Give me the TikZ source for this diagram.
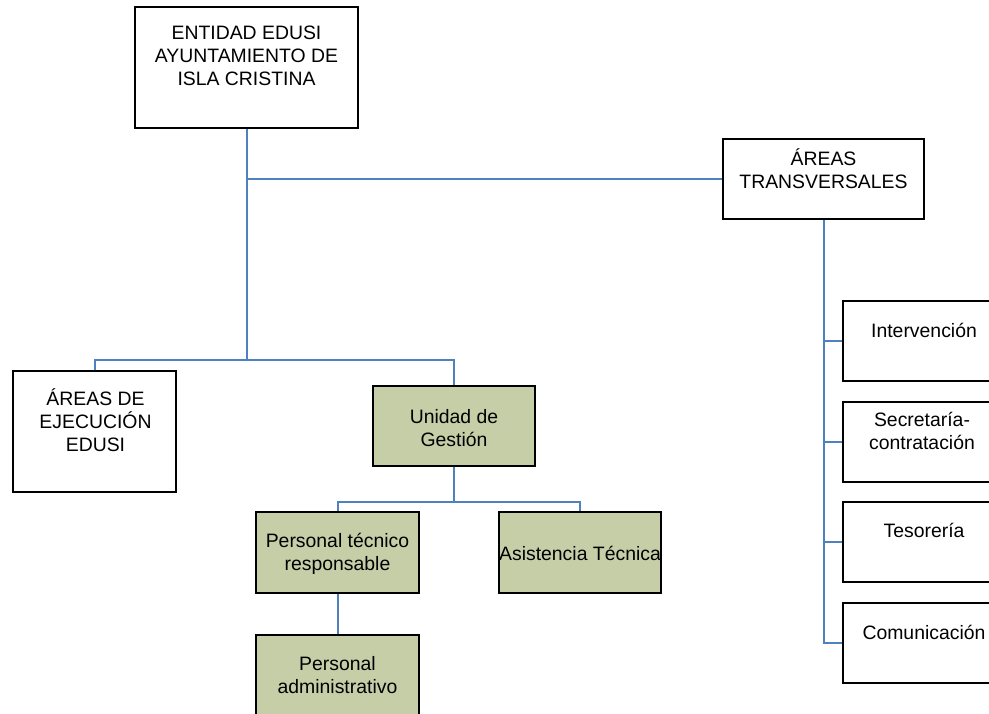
\documentclass[tikz,border=0pt]{standalone}
\usepackage{fontspec}
\setmainfont{Liberation Sans}
\definecolor{conn}{RGB}{79,129,189}
\definecolor{olive}{RGB}{198,206,168}
\begin{document}
\begin{tikzpicture}[x=1pt,y=-1pt,
  box/.style={draw=black,line width=2pt,rectangle,inner sep=0pt,fill=white},
  gbox/.style={box,fill=olive},
  txt/.style={align=center,inner sep=0pt,font=\fontsize{19.4}{23}\selectfont},
  link/.style={draw=conn,line width=2pt}]
\useasboundingbox (0,0) rectangle (989,713);
\clip (0,0) rectangle (989,713);
% boxes
\node[box,minimum width=223pt,minimum height=121pt] (top) at (246.5,67.5) {};
\node[box,minimum width=201pt,minimum height=80pt] (at) at (823.5,179) {};
\node[box,minimum width=163pt,minimum height=121pt] (ae) at (94.5,431.5) {};
\node[gbox,minimum width=162pt,minimum height=80pt] (ug) at (454,426) {};
\node[gbox,minimum width=163pt,minimum height=81pt] (pt) at (337.5,552.5) {};
\node[gbox,minimum width=162pt,minimum height=81pt] (as) at (580,552.5) {};
\node[gbox,minimum width=163pt,minimum height=81pt] (pa) at (337.5,675) {};
\node[box,minimum width=160pt,minimum height=80pt] (int) at (923,341) {};
\node[box,minimum width=160pt,minimum height=80pt] (sec) at (923,442) {};
\node[box,minimum width=160pt,minimum height=80pt] (tes) at (923,542) {};
\node[box,minimum width=160pt,minimum height=80pt] (com) at (923,643) {};
% texts
\node[txt] (ttop) at (246.5,56) {ENTIDAD EDUSI\\AYUNTAMIENTO DE\\ISLA CRISTINA};
\node[txt] (tat) at (823.5,169) {ÁREAS\\TRANSVERSALES};
\node[txt] (tae) at (95.5,420) {ÁREAS DE\\EJECUCIÓN\\EDUSI};
\node[txt] (tug) at (454,428) {Unidad de\\Gestión};
\node[txt] (tpt) at (337.5,554) {Personal técnico\\responsable};
\node[txt] (tas) at (580,553) {Asistencia Técnica};
\node[txt] (tpa) at (337.5,675) {Personal\\administrativo};
\node[txt] (tint) at (924,330) {Intervención};
\node[txt] (tsec) at (922,431) {Secretaría-\\contratación};
\node[txt] (ttes) at (924,530) {Tesorería};
\node[txt] (tcom) at (924,632) {Comunicación};
% connectors
\coordinate (j1) at (246.5,360);
\coordinate (j2) at (454,502);
\draw[link] (top.south) -- (j1);
\draw[link] (ae.north) |- (j1) -| (ug.north);
\draw[link] (top.south |- at.west) -- (at.west);
\draw[link] (ug.south) -- (j2);
\draw[link] (pt.north) |- (j2) -| (as.north);
\draw[link] (pt.south) -- (pa.north);
\draw[link] (at.south) |- (com.west);
\draw[link] (at.south |- int.west) -- (int.west);
\draw[link] (at.south |- sec.west) -- (sec.west);
\draw[link] (at.south |- tes.west) -- (tes.west);
\end{tikzpicture}
\end{document}
